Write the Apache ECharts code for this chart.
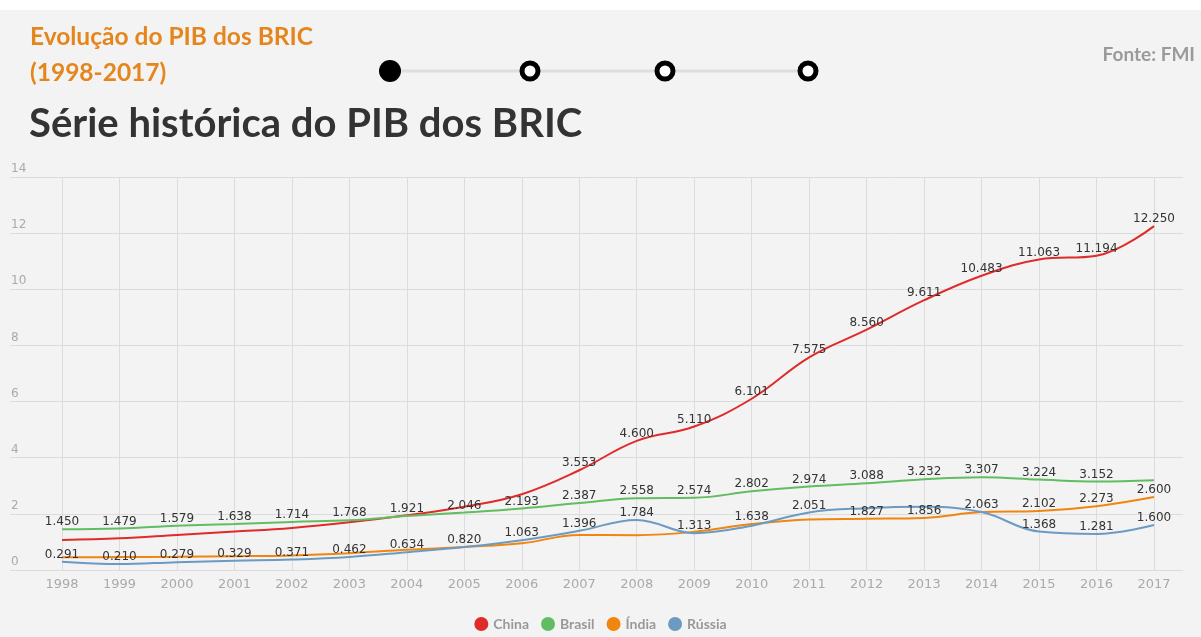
<!DOCTYPE html>
<html>
<head>
<meta charset="utf-8">
<script src="https://cdn.jsdelivr.net/npm/echarts@6/dist/echarts.min.js"></script>
<style>
html,body{margin:0;padding:0;background:#f3f3f3;}
#chart{width:1201px;height:637px;}
</style>
</head>
<body>
<div id="chart"></div>
<script>
const years = ['1998','1999','2000','2001','2002','2003','2004','2005','2006','2007','2008','2009','2010','2011','2012','2013','2014','2015','2016','2017'];
const china  = [1.07,1.13,1.25,1.37,1.50,1.70,1.95,2.25,2.70,3.553,4.600,5.110,6.101,7.575,8.560,9.611,10.483,11.063,11.194,12.250];
const brasil = [1.450,1.479,1.579,1.638,1.714,1.768,1.921,2.046,2.193,2.387,2.558,2.574,2.802,2.974,3.088,3.232,3.307,3.224,3.152,3.20];
const india  = [0.45,0.46,0.47,0.49,0.52,0.60,0.72,0.82,0.95,1.25,1.24,1.36,1.638,1.80,1.827,1.856,2.063,2.102,2.273,2.600];
const russia = [0.291,0.210,0.279,0.329,0.371,0.462,0.634,0.820,1.063,1.396,1.784,1.313,1.58,2.051,2.20,2.25,2.063,1.368,1.281,1.600];
const yTicks = [0,2,4,6,8,10,12,14];

const chinaLabels  = [9,10,11,12,13,14,15,16,17,18,19];
const brasilLabels = [0,1,2,3,4,5,6,7,8,9,10,11,12,13,14,15,16,17,18];
const indiaLabels  = [12,14,15,16,17,18,19];
const russiaLabels = [0,1,2,3,4,5,6,7,8,9,10,11,13,17,18,19];

function items(vals, shown){
  return vals.map((v,i)=>({value:v, label:{show: shown.indexOf(i)>=0}}));
}
function mk(name, color, vals, shown){
  return {
    name: name, type:'line', xAxisIndex:0, yAxisIndex:0,
    data: items(vals, shown),
    smooth: 0.4, symbol:'circle', symbolSize:0, showSymbol:true,
    lineStyle:{width:2, color:color}, itemStyle:{color:color},
    label:{position:'top', distance:1, color:'#333', fontFamily:'DejaVu Sans', fontSize:12,
      formatter: p => p.value.toFixed(3)},
    emphasis:{disabled:true}
  };
}

const chart = echarts.init(document.getElementById('chart'));
const gridTop = 177, gridBottom = 67;
chart.setOption({
  backgroundColor:'#f3f3f3',
  animation:false,
  grid:[
    {left:62, right:47, top:gridTop, bottom:gridBottom},
    {left:10, right:18, top:gridTop, bottom:gridBottom}
  ],
  xAxis:[
    {type:'category', gridIndex:0, data:years, boundaryGap:false,
     axisLine:{show:false}, axisTick:{show:false},
     axisLabel:{color:'#aaa', fontFamily:'DejaVu Sans', fontSize:13, margin:8},
     splitLine:{show:true, lineStyle:{color:'#dcdcdc', width:1}}},
    {type:'value', gridIndex:1, show:false, min:0, max:1}
  ],
  yAxis:[
    {type:'value', gridIndex:0, min:yTicks[0], max:yTicks[yTicks.length-1], interval:2, show:false},
    {type:'value', gridIndex:1, min:yTicks[0], max:yTicks[yTicks.length-1], interval:2,
     axisLine:{show:false}, axisTick:{show:false},
     axisLabel:{inside:true, verticalAlign:'bottom', align:'left', margin:1, padding:[0,0,2,0],
       color:'#aaa', fontFamily:'DejaVu Sans', fontSize:12},
     splitLine:{show:true, lineStyle:{color:'#dcdcdc', width:1}}}
  ],
  legend:{
    bottom:1, left:'center', icon:'circle', itemWidth:14, itemHeight:14, itemGap:12,
    textStyle:{color:'#999', fontFamily:'Lato', fontWeight:'bold', fontSize:14},
    data:['China','Brasil','Índia','Rússia']
  },
  series:[
    mk('China','#e02b2b',china,chinaLabels),
    mk('Brasil','#62bd62',brasil,brasilLabels),
    mk('Índia','#f0850f',india,indiaLabels),
    mk('Rússia','#6b9bc3',russia,russiaLabels)
  ],
  graphic:[
    {type:'rect', left:0, top:0, shape:{width:1201, height:10}, style:{fill:'#ffffff'}, z:-1},
    {type:'text', left:30, top:25, style:{text:'Evolução do PIB dos BRIC', fill:'#e5861c', font:'bold 24.5px Lato'}},
    {type:'text', left:30, top:61, style:{text:'(1998-2017)', fill:'#e5861c', font:'bold 24.5px Lato'}},
    {type:'text', left:29, top:104, style:{text:'Série histórica do PIB dos BRIC', fill:'#333333', font:'bold 40px Lato'}},
    {type:'text', right:6, top:45, style:{text:'Fonte: FMI', fill:'#9a9a9a', font:'bold 19px Lato'}},
    {type:'line', shape:{x1:390, y1:71, x2:808, y2:71}, style:{stroke:'#dedede', lineWidth:3}},
    {type:'circle', shape:{cx:390, cy:71, r:11}, style:{fill:'#000'}},
    {type:'circle', shape:{cx:530, cy:71, r:8}, style:{fill:'#fff', stroke:'#000', lineWidth:5}},
    {type:'circle', shape:{cx:665, cy:71, r:8}, style:{fill:'#fff', stroke:'#000', lineWidth:5}},
    {type:'circle', shape:{cx:808, cy:71, r:8}, style:{fill:'#fff', stroke:'#000', lineWidth:5}}
  ]
});
</script>
</body>
</html>
